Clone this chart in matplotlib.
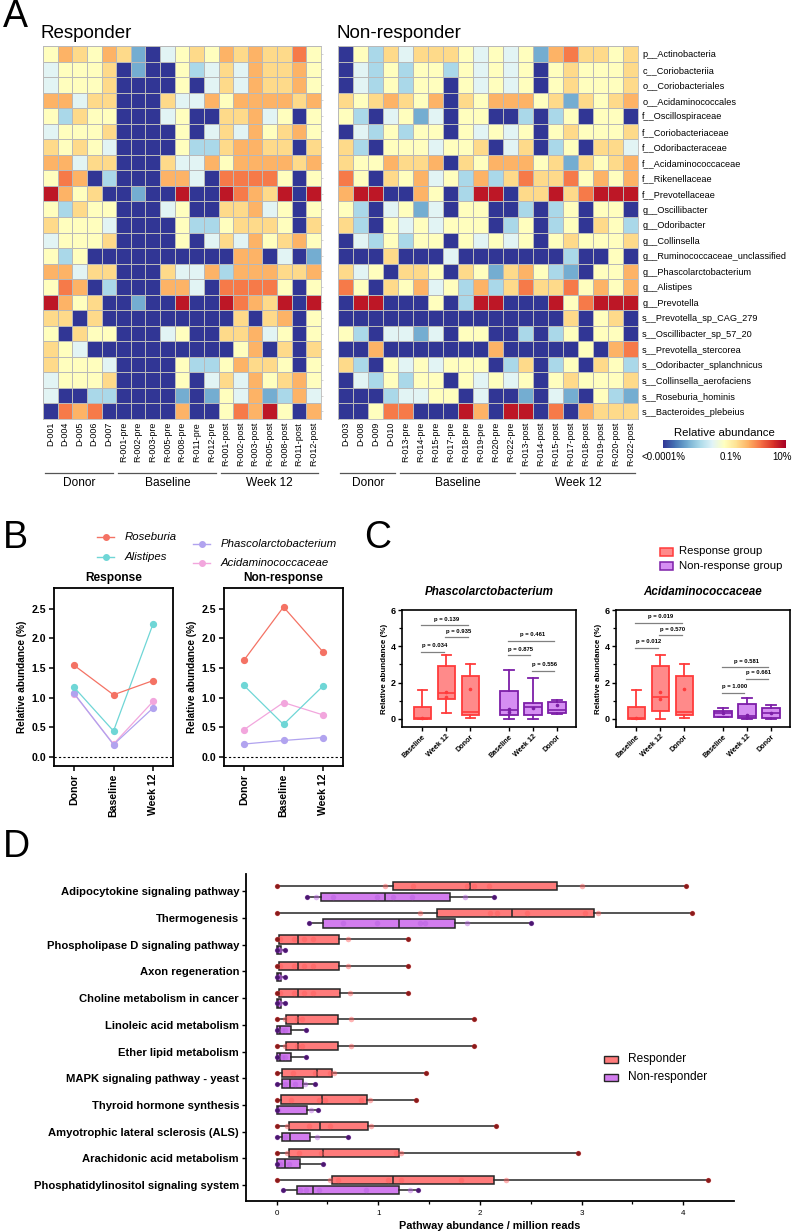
import numpy as np
import matplotlib.pyplot as plt
import matplotlib.transforms as mtransforms
from matplotlib.lines import Line2D
from matplotlib.patches import Rectangle

plt.rcParams['font.family'] = ['Liberation Sans', 'DejaVu Sans']

# ---------------------------------------------------------------
# Panel A data: colour level per cell (0 = lowest .. 9 = highest)
# ---------------------------------------------------------------
taxa = ['p__Actinobacteria', 'c__Coriobacteriia', 'o__Coriobacteriales', 'o__Acidaminococcales',
        'f__Oscillospiraceae', 'f__Coriobacteriaceae', 'f__Odoribacteraceae', 'f__Acidaminococcaceae',
        'f__Rikenellaceae', 'f__Prevotellaceae', 'g__Oscillibacter', 'g__Odoribacter', 'g__Collinsella',
        'g__Ruminococcaceae_unclassified', 'g__Phascolarctobacterium', 'g__Alistipes', 'g__Prevotella',
        's__Prevotella_sp_CAG_279', 's__Oscillibacter_sp_57_20', 's__Prevotella_stercorea',
        's__Odoribacter_splanchnicus', 's__Collinsella_aerofaciens', 's__Roseburia_hominis',
        's__Bacteroides_plebeius']

resp_samples = ['D-001', 'D-004', 'D-005', 'D-006', 'D-007',
                'R-001-pre', 'R-002-pre', 'R-003-pre', 'R-005-pre', 'R-008-pre', 'R-011-pre', 'R-012-pre',
                'R-001-post', 'R-002-post', 'R-003-post', 'R-005-post', 'R-008-post', 'R-011-post', 'R-012-post']
nonresp_samples = ['D-003', 'D-008', 'D-009', 'D-010',
                   'R-013-pre', 'R-014-pre', 'R-015-pre', 'R-017-pre', 'R-018-pre', 'R-019-pre', 'R-020-pre', 'R-022-pre',
                   'R-013-post', 'R-014-post', 'R-015-post', 'R-017-post', 'R-018-post', 'R-019-post', 'R-020-post', 'R-022-post']

resp_heat = ["5765762045657676685", "4555602005346476675", "4555600005046476675", "7746600064475777767",
             "5365500045006674505", "4555600005046475675", "6565400005336776606", "7746600064475777767",
             "5870300077408888505", "9756002009009876909", "5365500045006674505", "6555400005335666506",
             "4555600005046475675", "5350000000000770402", "7746600064473777667", "5870300077408888505",
             "9756002009009876909", "6606000000000606705", "5065500045006674505", "6540000000000570606",
             "6555400005335766505", "4555600005046475675", "4003300002025472374", "0878000007005879507"]
nonresp_heat = ["05364666545452786656", "04353553545450565556", "04353550545450565556", "65676570657775626567",
                "53045240550030350550", "04353550545450565556", "63055545560460350664", "65576670657775626567",
                "85065745373686685757", "79900750399066968999", "53045240550030350550", "63054545550350350653",
                "04353550545450565556", "00060004000000030050", "64506650652675320557", "85065745373686685757",
                "09900050399000958999", "00000000000000060560", "53044240550030350550", "00700000007000005078",
                "63054545550360350653", "04353550545450565556", "00034455040020420532", "00588000970990807666"]
levels = [0.0, 0.1, 0.2, 0.3, 0.41, 0.5, 0.61, 0.69, 0.78, 0.95]

# Panel B data
stages = ['Donor', 'Baseline', 'Week 12']
b_taxa = ['Roseburia', 'Alistipes', 'Phascolarctobacterium', 'Acidaminococcaceae']
b_colors = ['#f47264', '#6fd6d6', '#b1a3ef', '#f2a6dd']
b_response = [[1.55, 1.05, 1.29], [1.18, 0.44, 2.25], [1.08, 0.21, 0.83], [1.07, 0.22, 0.94]]
b_nonresponse = [[1.63, 2.53, 1.77], [1.21, 0.55, 1.20], [0.22, 0.28, 0.33], [0.46, 0.92, 0.71]]

# Panel C data: (whislo, q1, median, q3, whishi)
c_groups = ['Baseline', 'Week 12', 'Donor', 'Baseline', 'Week 12', 'Donor']
phasc_stats = [(0, 0, 0.05, 0.68, 1.58), (0.3, 1.1, 1.4, 2.9, 3.5), (0.05, 0.2, 0.35, 2.35, 3.05),
               (0, 0.2, 0.5, 1.55, 2.7), (0, 0.2, 0.65, 0.9, 2.25), (0.25, 0.3, 0.5, 0.95, 1.05)]
phasc_dots = [[0.05], [1.5, 1.2], [1.65], [0.55, 0.4], [0.6], [0.75]]
phasc_pvals = [(0, 2, 5.15, 'p = 0.139'), (1, 2, 4.5, 'p = 0.935'), (0, 1, 3.7, 'p = 0.034'),
               (3, 5, 4.3, 'p = 0.461'), (3, 4, 3.5, 'p = 0.875'), (4, 5, 2.65, 'p = 0.556')]
acid_stats = [(0, 0, 0.05, 0.68, 1.58), (0, 0.45, 1.2, 2.9, 3.5), (0.05, 0.2, 0.35, 2.35, 3.05),
              (0.1, 0.1, 0.3, 0.45, 0.6), (0, 0.05, 0.15, 0.8, 1.15), (0, 0.05, 0.3, 0.6, 0.75)]
acid_dots = [[0.05], [1.5, 1.1], [1.65], [0.3], [0.2, 0.1], [0.3]]
acid_pvals = [(0, 2, 5.3, 'p = 0.019'), (1, 2, 4.6, 'p = 0.570'), (0, 1, 3.9, 'p = 0.012'),
              (3, 5, 2.85, 'p = 0.581'), (4, 5, 2.2, 'p = 0.661'), (3, 4, 1.45, 'p = 1.000')]

# Panel D data: (whislo, q1, median, q3, whishi) per pathway
pathways = ['Adipocytokine signaling pathway', 'Thermogenesis', 'Phospholipase D signaling pathway',
            'Axon regeneration', 'Choline metabolism in cancer', 'Linoleic acid metabolism',
            'Ether lipid metabolism', 'MAPK signaling pathway - yeast', 'Thyroid hormone synthesis',
            'Amyotrophic lateral sclerosis (ALS)', 'Arachidonic acid metabolism',
            'Phosphatidylinositol signaling system']
d_resp = [(0, 1.15, 1.90, 2.76, 4.03), (0, 1.58, 2.32, 3.12, 4.09), (0, 0.02, 0.21, 0.61, 1.29),
          (0, 0.02, 0.21, 0.61, 1.29), (0, 0.02, 0.21, 0.62, 1.29), (0, 0.09, 0.21, 0.60, 1.94),
          (0, 0.09, 0.21, 0.60, 1.94), (0, 0.05, 0.40, 0.55, 1.47), (0, 0.04, 0.45, 0.89, 1.37),
          (0, 0.12, 0.43, 0.90, 2.16), (0, 0.12, 0.46, 1.20, 2.97), (0, 0.55, 1.15, 2.14, 4.24)]
d_nonresp = [(0.30, 0.44, 1.07, 1.71, 2.14), (0.32, 0.46, 1.20, 1.76, 2.50), (0, 0, 0.01, 0.04, 0.08),
             (0, 0, 0.01, 0.04, 0.08), (0, 0, 0.01, 0.04, 0.08), (0, 0, 0.03, 0.14, 0.29),
             (0, 0, 0.03, 0.14, 0.29), (0, 0.05, 0.13, 0.26, 0.38), (0, 0, 0.01, 0.30, 0.41),
             (0, 0.05, 0.13, 0.33, 0.70), (0, 0, 0.08, 0.23, 0.46), (0.06, 0.20, 0.36, 1.20, 1.39)]
d_resp_pts = [[0, 1.07, 1.34, 1.87, 1.94, 2.09, 3.0, 4.03], [0, 1.41, 2.10, 2.17, 2.46, 3.03, 3.16, 4.09],
              [0, 0.03, 0.17, 0.27, 0.36, 0.70, 1.29], [0, 0.03, 0.17, 0.27, 0.36, 0.70, 1.29],
              [0, 0.03, 0.17, 0.27, 0.36, 0.72, 1.29], [0, 0.08, 0.2, 0.25, 0.73, 1.94],
              [0, 0.08, 0.2, 0.25, 0.73, 1.94], [0, 0.16, 0.38, 0.53, 0.57, 1.47],
              [0, 0.14, 0.42, 0.48, 0.83, 0.92, 1.37], [0, 0.10, 0.32, 0.53, 0.93, 2.16],
              [0, 0.10, 0.22, 0.44, 1.18, 1.22, 2.97], [0, 0.53, 0.60, 1.10, 1.22, 1.81, 2.26, 4.24]]
d_nonresp_pts = [[0.30, 0.39, 0.56, 0.99, 1.15, 1.33, 1.85, 2.14], [0.32, 0.65, 0.99, 1.41, 1.46, 1.87, 2.50],
                 [0, 0.02, 0.03, 0.08], [0, 0.02, 0.03, 0.08], [0, 0.02, 0.03, 0.08],
                 [0, 0.05, 0.08, 0.29], [0, 0.05, 0.08, 0.29], [0, 0.08, 0.18, 0.28, 0.38],
                 [0, 0.01, 0.34, 0.41], [0, 0.08, 0.40, 0.70], [0, 0.03, 0.12, 0.46],
                 [0.06, 0.23, 0.29, 0.42, 0.88, 1.31, 1.39]]

# ---------------------------------------------------------------
W, H = 794, 1232
fig = plt.figure(figsize=(W / 100, H / 100), dpi=100)


def add_ax(x0, y0, x1, y1):
    # axes from pixel box (top-left origin)
    return fig.add_axes([x0 / W, 1 - y1 / H, (x1 - x0) / W, (y1 - y0) / H])


def ftext(x, y, s, **kw):
    fig.text(x / W, 1 - y / H, s, **kw)


cmap = plt.get_cmap('RdYlBu_r')

# ---------------- Panel A ----------------
ftext(3, 17, 'A', fontsize=27, va='center')
ftext(41, 33, 'Responder', fontsize=13.5, va='center')
ftext(337, 33, 'Non-responder', fontsize=13.5, va='center')


def heat(ax, rows, samples, right_labels):
    data = np.array([[levels[int(c)] for c in r] for r in rows])
    mesh = ax.pcolormesh(data, cmap=cmap, vmin=0, vmax=1, edgecolors='#b9b9b9', linewidth=0.6)
    ax.set_xlim(0, data.shape[1])
    ax.set_ylim(data.shape[0], 0)
    ax.set_xticks(np.arange(len(samples)) + 0.5)
    ax.set_xticklabels(samples, rotation=90, fontsize=6.4)
    ax.tick_params(axis='x', length=0, pad=2)
    ax.yaxis.tick_right()
    ax.set_yticks(np.arange(len(taxa)) + 0.5)
    if right_labels:
        ax.set_yticklabels(taxa, fontsize=6.6)
        ax.tick_params(axis='y', length=0, pad=3)
    else:
        ax.set_yticklabels([])
        ax.tick_params(axis='y', length=1.5, color='#cccccc', width=0.6)
    for s in ax.spines.values():
        s.set_color('#b9b9b9')
        s.set_linewidth(0.6)
    return mesh


def group_bar(ax, spans, names):
    tr = mtransforms.blended_transform_factory(ax.transData, fig.transFigure)
    for (a, b), name in zip(spans, names):
        ax.add_line(Line2D([a + 0.15, b - 0.2], [1 - 473 / H] * 2, transform=tr,
                           color='#555555', lw=0.9, clip_on=False))
        ax.text((a + b) / 2, 1 - 483 / H, name, transform=tr, ha='center', va='center', fontsize=8.6)


ax_hl = add_ax(43, 46, 321, 419)
mesh = heat(ax_hl, resp_heat, resp_samples, False)
group_bar(ax_hl, [(0, 5), (5, 12), (12, 19)], ['Donor', 'Baseline', 'Week 12'])

ax_hr = add_ax(338, 46, 638, 419)
heat(ax_hr, nonresp_heat, nonresp_samples, True)
group_bar(ax_hr, [(0, 4), (4, 12), (12, 20)], ['Donor', 'Baseline', 'Week 12'])

cax = add_ax(663, 440, 786, 448)
cb = fig.colorbar(mesh, cax=cax, orientation='horizontal')
cb.outline.set_visible(False)
cb.set_ticks([0, 0.55, 0.965])
cb.set_ticklabels(['<0.0001%', '0.1%', '10%'])
cax.tick_params(length=0, labelsize=7, pad=3)
cax.set_title('Relative abundance', fontsize=8.2, pad=3)

# ---------------- Panel B ----------------
ftext(3, 538, 'B', fontsize=27, va='center')
leg_pos = [(97, 537), (97, 557), (193, 544), (193, 563)]
for (lx, ly), name, col in zip(leg_pos, b_taxa, b_colors):
    fig.add_artist(Line2D([lx / W, (lx + 17) / W], [1 - ly / H] * 2, color=col, lw=1.0,
                          transform=fig.transFigure))
    fig.add_artist(Line2D([(lx + 8.5) / W], [1 - ly / H], color=col, marker='o', ms=4,
                          transform=fig.transFigure))
    ftext(lx + 28, ly, name, fontsize=8.2, style='italic', va='center')


def line_panel(ax, values, title):
    for vals, col in reversed(list(zip(values, b_colors))):
        ax.plot(range(3), vals, '-o', color=col, lw=0.9, ms=4.2)
    ax.axhline(0, color='black', lw=0.8, ls=(0, (2, 2)))
    ax.set_xlim(-0.5, 2.5)
    ax.set_ylim(-0.15, 2.85)
    ax.set_yticks([0, 0.5, 1.0, 1.5, 2.0, 2.5])
    ax.set_yticklabels(['0.0', '0.5', '1.0', '1.5', '2.0', '2.5'], fontweight='bold', fontsize=7.6)
    ax.set_xticks(range(3))
    ax.set_xticklabels(stages, rotation=90, fontweight='bold', fontsize=7.6)
    ax.tick_params(direction='out', length=3.5, width=1.1, pad=2)
    for s in ax.spines.values():
        s.set_linewidth(1.3)
    ax.set_ylabel('Relative abundance (%)', fontweight='bold', fontsize=7.2, labelpad=3)
    ax.set_title(title, fontweight='bold', fontsize=8.6, pad=5)


ax_b1 = add_ax(54, 588, 173, 766)
line_panel(ax_b1, b_response, 'Response')
ax_b2 = add_ax(224, 588, 343, 766)
line_panel(ax_b2, b_nonresponse, 'Non-response')

# ---------------- Panel C ----------------
ftext(364, 538, 'C', fontsize=27, va='center')
fig.add_artist(Rectangle((660 / W, 1 - 556 / H), 13 / W, 8 / H, transform=fig.transFigure,
                         facecolor='#ff8a8a', edgecolor='#ff3b3b', lw=1.1))
fig.add_artist(Rectangle((660 / W, 1 - 570 / H), 13 / W, 8 / H, transform=fig.transFigure,
                         facecolor='#d58ef2', edgecolor='#7d1fa8', lw=1.1))
ftext(679, 551, 'Response group', fontsize=8.2, va='center')
ftext(679, 566, 'Non-response group', fontsize=8.2, va='center')

c_pos = [0, 1, 2, 3.6, 4.6, 5.6]


def box_panel(ax, stats, dots, pvals, title):
    for i, s in enumerate(stats):
        ec = '#ff3b3b' if i < 3 else '#7d1fa8'
        fc = '#ff8a8a' if i < 3 else '#d58ef2'
        b = dict(whislo=s[0], q1=s[1], med=s[2], q3=s[3], whishi=s[4], fliers=[])
        ax.bxp([b], positions=[c_pos[i]], widths=0.74, patch_artist=True, showfliers=False,
               boxprops=dict(facecolor=fc, edgecolor=ec, linewidth=1.3),
               medianprops=dict(color=ec, linewidth=1.2),
               whiskerprops=dict(color=ec, linewidth=1.3),
               capprops=dict(color=ec, linewidth=1.3), capwidths=0.4)
        ax.plot([c_pos[i]] * len(dots[i]), dots[i], 'o', color=ec, ms=1.6)
    for a, b, y, lab in pvals:
        ax.plot([c_pos[a] - 0.05, c_pos[b] - 0.1], [y, y], color='#808080', lw=0.9)
        ax.text((c_pos[a] + c_pos[b]) / 2, y + 0.2, lab, ha='center', va='bottom', fontsize=4.2,
                fontweight='bold')
    ax.set_xlim(-0.85, 6.4)
    ax.set_ylim(-0.45, 6)
    ax.set_yticks([0, 2, 4, 6])
    ax.set_yticks([1, 3, 5], minor=True)
    ax.set_yticklabels(['0', '2', '4', '6'], fontweight='bold', fontsize=6.5)
    ax.set_xticks(c_pos)
    ax.set_xticklabels(c_groups, rotation=45, ha='right', rotation_mode='anchor',
                       fontweight='bold', fontsize=5.2)
    ax.tick_params(direction='out', length=3, width=1.0, pad=1.5)
    ax.tick_params(which='minor', length=2, width=0.9)
    for s in ax.spines.values():
        s.set_linewidth(1.2)
    ax.set_ylabel('Relative abundance (%)', fontweight='bold', fontsize=5.8, labelpad=2)
    ax.set_title(title, fontweight='bold', style='italic', fontsize=8.4, pad=11)


ax_c1 = add_ax(402, 610, 576, 727)
box_panel(ax_c1, phasc_stats, phasc_dots, phasc_pvals, 'Phascolarctobacterium')
ax_c2 = add_ax(616, 610, 790, 727)
box_panel(ax_c2, acid_stats, acid_dots, acid_pvals, 'Acidaminococcaceae')

# ---------------- Panel D ----------------
ftext(3, 847, 'D', fontsize=27, va='center')
ax_d = add_ax(246, 874, 734, 1201)
groups_d = [(d_resp, d_resp_pts, -0.2, '#ff7b7b', '#ff5a5a', '#8b1a1a'),
            (d_nonresp, d_nonresp_pts, 0.2, '#d27cee', '#b55de0', '#4b1670')]
for stats, pts_all, off, fc, dc, endc in groups_d:
    for i, s in enumerate(stats):
        b = dict(whislo=s[0], q1=s[1], med=s[2], q3=s[3], whishi=s[4], fliers=[])
        ax_d.bxp([b], positions=[i + off], widths=0.31, vert=False, patch_artist=True,
                 showfliers=False, showcaps=False,
                 boxprops=dict(facecolor=fc, edgecolor='#262626', linewidth=1.1),
                 medianprops=dict(color='#262626', linewidth=1.1),
                 whiskerprops=dict(color='#262626', linewidth=1.1))
        pts = pts_all[i]
        ax_d.scatter(pts, [i + off] * len(pts), s=16, color=dc, alpha=0.45, lw=0, zorder=3)
        ax_d.plot([s[0], s[4]], [i + off] * 2, 'o', color=endc, ms=2.4, zorder=4)

ax_d.set_ylim(11.6, -0.65)
ax_d.set_xlim(-0.3, 4.5)
ax_d.set_yticks(range(len(pathways)))
ax_d.set_yticklabels(pathways, fontweight='bold', fontsize=8.1)
ax_d.set_xticks([0, 1, 2, 3, 4])
ax_d.set_xticks([0.5, 1.5, 2.5, 3.5], minor=True)
ax_d.tick_params(axis='x', labelsize=5.8, length=3, width=1.0)
ax_d.tick_params(axis='x', which='minor', length=2, width=0.9)
ax_d.tick_params(axis='y', length=3, width=1.0, pad=2)
ax_d.spines['top'].set_visible(False)
ax_d.spines['right'].set_visible(False)
ax_d.spines['left'].set_linewidth(1.3)
ax_d.spines['bottom'].set_linewidth(1.3)
ax_d.set_xlabel('Pathway abundance / million reads', fontweight='bold', fontsize=7.8, labelpad=3)

fig.add_artist(Rectangle((604 / W, 1 - 1063 / H), 14 / W, 7 / H, transform=fig.transFigure,
                         facecolor='#ff7b7b', edgecolor='#262626', lw=1.0))
fig.add_artist(Rectangle((604 / W, 1 - 1081 / H), 14 / W, 7 / H, transform=fig.transFigure,
                         facecolor='#d27cee', edgecolor='#262626', lw=1.0))
ftext(628, 1059, 'Responder', fontsize=8.6, va='center')
ftext(628, 1077, 'Non-responder', fontsize=8.6, va='center')

fig.savefig('out.png', dpi=100)
